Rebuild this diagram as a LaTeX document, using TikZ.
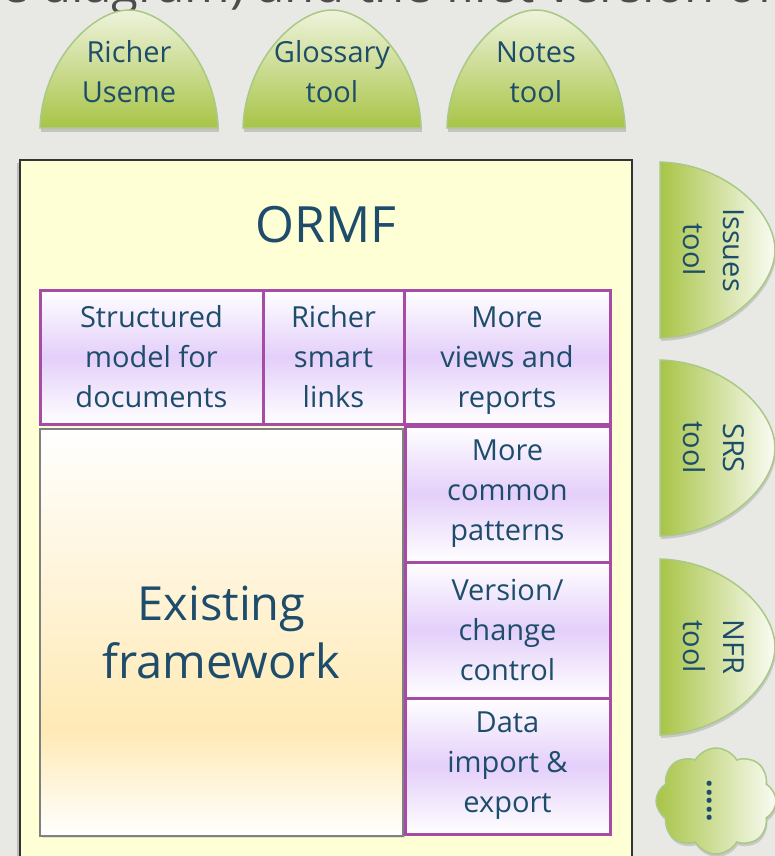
\documentclass[tikz,border=0pt]{standalone}
\usepackage{fontspec}
\setmainfont{Open Sans}
\usetikzlibrary{shadows,shapes.symbols}
\definecolor{bgc}{HTML}{E8E8E5}
\definecolor{txt}{HTML}{1E4D6B}
\definecolor{purp}{HTML}{A64CA6}
\definecolor{lav}{HTML}{E4CFFA}
\definecolor{boxfill}{HTML}{FFFFD6}
\definecolor{boxline}{HTML}{333333}
\definecolor{gr}{HTML}{A8C446}
\definecolor{pale}{HTML}{EEF3DC}
\definecolor{grline}{HTML}{A9C985}
\definecolor{exor}{HTML}{FFEAB5}
\pgfdeclareverticalshading{exsh}{100bp}{color(0bp)=(white); color(25bp)=(white); color(38bp)=(exor); color(75bp)=(white); color(100bp)=(white)}
\tikzset{
  celltxt/.style={text=txt, font=\fontsize{29}{40}\selectfont, align=center},
  cell/.style={celltxt, draw=purp, line width=3pt, top color=white, bottom color=white, middle color=lav, inner sep=0pt, drop shadow={opacity=0.2, shadow xshift=2pt, shadow yshift=-2pt}},
  domeshape/.style={draw=grline, line width=1.5pt, top color=pale, bottom color=gr, drop shadow={opacity=0.35, shadow xshift=1pt, shadow yshift=-4pt}},
  sideshape/.style={draw=grline, line width=1.5pt, left color=gr, right color=white!70!pale, drop shadow={opacity=0.3, shadow xshift=1pt, shadow yshift=-3pt}},
}
\begin{document}
\begin{tikzpicture}[x=1pt,y=-1pt]
\fill[bgc] (0,0) rectangle (775,856);
\useasboundingbox (0,0) rectangle (775,856);
\begin{scope}
\clip (0,0) rectangle (775,856);
% clipped title text at top
\node[anchor=base east, text=black!70, font=\fontsize{49}{54}\selectfont, inner sep=0pt] (toptext) at (774,3) {the diagram) and the first version of};
% top domes
\path[domeshape] (40,128) .. controls (42,62) and (92,10) .. (129,10) .. controls (166,10) and (216,62) .. (218,128) -- cycle;
\path[domeshape] (243,128) .. controls (245,62) and (295,10) .. (332,10) .. controls (369,10) and (419,62) .. (421,128) -- cycle;
\path[domeshape] (447,128) .. controls (449,62) and (499,10) .. (536,10) .. controls (573,10) and (623,62) .. (625,128) -- cycle;
\node[celltxt] (richer) at (129,72) {Richer\\Useme};
\node[celltxt] (gloss) at (332,72) {Glossary\\tool};
\node[celltxt] (notes) at (536,72) {Notes\\tool};
% main box
\path[fill=boxfill, draw=boxline, line width=1.5pt, drop shadow={opacity=0.4, shadow xshift=-3pt, shadow yshift=-3pt}] (20,160) rectangle (632,880);
\node[text=txt, font=\fontsize{50}{54}\selectfont] (ormf) at (326,225) {ORMF};
% existing framework
\node[celltxt, font=\fontsize{47}{58}\selectfont, draw=black!50, line width=2pt, shading=exsh, minimum width=363pt, minimum height=407pt, inner sep=0pt, drop shadow={opacity=0.2, shadow xshift=2pt, shadow yshift=-2pt}] (exist) at (221.5,632) {Existing\\framework};
% cells
\node[cell, minimum width=223pt, minimum height=134pt] (struct) at (151.5,357) {Structured\\model for\\documents};
\node[cell, minimum width=141pt, minimum height=134pt] (smart) at (333.5,357) {Richer\\smart\\links};
\node[cell, minimum width=206pt, minimum height=134pt, text depth=0pt] (views) at (507,357) {More\\views and\\reports\rule[-8pt]{0pt}{1pt}};
\node[cell, minimum width=205pt, minimum height=136pt] (common) at (507.5,494) {More\\common\\patterns\rule[-8pt]{0pt}{1pt}};
\node[cell, minimum width=205pt, minimum height=136pt] (version) at (507.5,630) {Version/\\change\\control};
\node[cell, minimum width=205pt, minimum height=136pt] (data) at (507.5,766) {Data\\import \&\\export};
% side tools
\path[sideshape] (660,162) .. controls (726,164) and (775,212) .. (775,250) .. controls (775,288) and (726,336) .. (660,338) -- cycle;
\path[sideshape] (660,360) .. controls (726,362) and (775,410) .. (775,448) .. controls (775,486) and (726,534) .. (660,536) -- cycle;
\path[sideshape] (660,559) .. controls (726,561) and (775,609) .. (775,647) .. controls (775,685) and (726,733) .. (660,735) -- cycle;
\node[celltxt, rotate=-90] (issues) at (714,250) {Issues\\tool};
\node[celltxt, rotate=-90] (srs) at (714,448) {SRS\\tool};
\node[celltxt, rotate=-90] (nfr) at (714,647) {NFR\\tool};
\node[cloud, cloud puffs=8, cloud puff arc=120, aspect=1.1, draw=grline, line width=1.5pt, left color=gr, right color=white!70!pale, minimum width=120pt, minimum height=106pt, inner sep=0pt, drop shadow={opacity=0.3, shadow xshift=1pt, shadow yshift=-3pt}] (more) at (716,801) {};
\node[celltxt, rotate=-90, font=\bfseries\fontsize{30}{34}\selectfont] (dots) at (710,801) {.....};
\end{scope}
\end{tikzpicture}
\end{document}
